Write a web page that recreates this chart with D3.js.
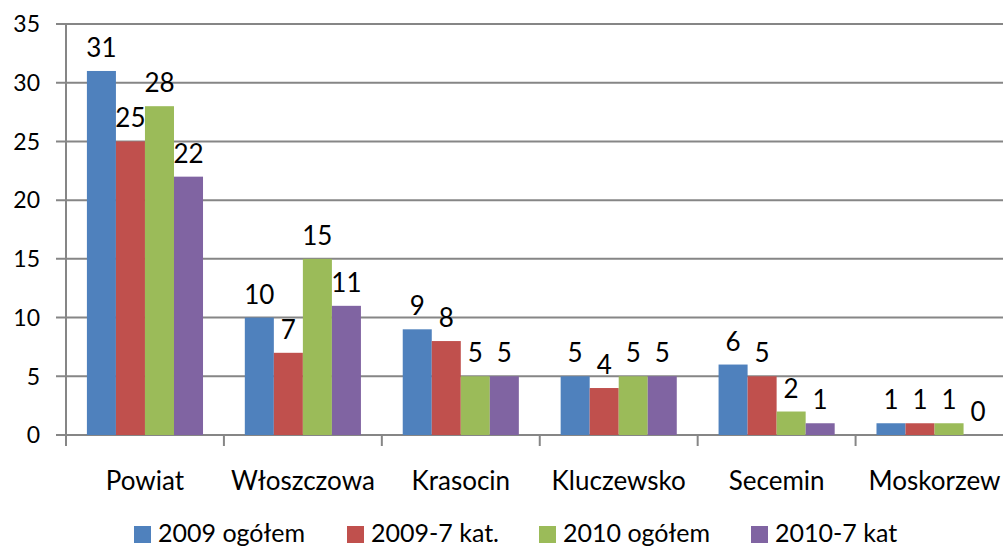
<!DOCTYPE html>
<html>
<head>
<meta charset="utf-8">
<script src="https://cdn.jsdelivr.net/npm/d3@7"></script>
<style>
  html, body { margin: 0; padding: 0; background: #fff; overflow: hidden; }
  text { font-family: Lato, "Open Sans", sans-serif; fill: #000; }
</style>
</head>
<body>
<div id="chart"></div>
<script>
var categories = ["Powiat", "Włoszczowa", "Krasocin", "Kluczewsko", "Secemin", "Moskorzew"];
var seriesNames = ["2009 ogółem", "2009-7 kat.", "2010 ogółem", "2010-7 kat"];
var s2009 = [31, 10, 9, 5, 6, 1];
var s2009k = [25, 7, 8, 4, 5, 1];
var s2010 = [28, 15, 5, 5, 2, 1];
var s2010k = [22, 11, 5, 5, 1, 0];
var yTicks = [0, 5, 10, 15, 20, 25, 30, 35];
var colors = ["#4F81BD", "#C0504D", "#9BBB59", "#8064A2"];

var width = 1003, height = 548;
var series = [s2009, s2009k, s2010, s2010k];

var svg = d3.select("#chart")
    .append("svg")
    .attr("width", width)
    .attr("height", height);

var y = d3.scaleLinear()
    .domain([0, 35])
    .range([435, 24]);

var x0 = d3.scaleBand()
    .domain(categories)
    .range([66, 1013.5])
    .paddingInner(0)
    .paddingOuter(0);

var x1 = d3.scaleBand()
    .domain(d3.range(seriesNames.length))
    .range([0, x0.bandwidth()])
    .paddingInner(0)
    .paddingOuter(0.72);

// gridlines
svg.append("g")
    .selectAll("line")
    .data(yTicks)
    .enter()
    .append("line")
    .attr("x1", 56)
    .attr("x2", width)
    .attr("y1", function (d) { return y(d); })
    .attr("y2", function (d) { return y(d); })
    .attr("stroke", "#868686")
    .attr("stroke-width", 2);

// y tick labels
svg.append("g")
    .selectAll("text")
    .data(yTicks)
    .enter()
    .append("text")
    .attr("x", 40)
    .attr("y", function (d) { return y(d); })
    .attr("dy", "0.36em")
    .attr("text-anchor", "end")
    .style("font-size", "23px")
    .text(function (d) { return d; });

// y axis line
svg.append("line")
    .attr("x1", 66).attr("x2", 66)
    .attr("y1", y(35)).attr("y2", 446)
    .attr("stroke", "#868686")
    .attr("stroke-width", 2);

// category ticks
svg.append("g")
    .selectAll("line")
    .data(categories.slice(1))
    .enter()
    .append("line")
    .attr("x1", function (d) { return x0(d); })
    .attr("x2", function (d) { return x0(d); })
    .attr("y1", y(0))
    .attr("y2", 446)
    .attr("stroke", "#868686")
    .attr("stroke-width", 2);

// bars
var groups = svg.append("g")
    .selectAll("g")
    .data(categories)
    .enter()
    .append("g")
    .attr("transform", function (d) { return "translate(" + x0(d) + ",0)"; });

groups.selectAll("rect")
    .data(function (d, i) { return series.map(function (s, k) { return { k: k, v: s[i] }; }); })
    .enter()
    .append("rect")
    .attr("x", function (d) { return x1(d.k); })
    .attr("y", function (d) { return y(d.v); })
    .attr("width", x1.bandwidth())
    .attr("height", function (d) { return y(0) - y(d.v); })
    .attr("fill", function (d) { return colors[d.k]; });

// data labels
groups.selectAll("text")
    .data(function (d, i) { return series.map(function (s, k) { return { k: k, v: s[i] }; }); })
    .enter()
    .append("text")
    .attr("x", function (d) { return x1(d.k) + x1.bandwidth() / 2; })
    .attr("y", function (d) { return y(d.v) - 14; })
    .attr("text-anchor", "middle")
    .style("font-size", "26px")
    .text(function (d) { return d.v; });

// category labels
svg.append("g")
    .selectAll("text")
    .data(categories)
    .enter()
    .append("text")
    .attr("x", function (d) { return x0(d) + x0.bandwidth() / 2; })
    .attr("y", 490)
    .attr("text-anchor", "middle")
    .style("font-size", "26px")
    .text(function (d) { return d; });

// legend
var legendX = [134, 347, 539, 751];
var legend = svg.append("g")
    .selectAll("g")
    .data(seriesNames)
    .enter()
    .append("g")
    .attr("transform", function (d, i) { return "translate(" + legendX[i] + ",526)"; });

legend.append("rect")
    .attr("width", 17)
    .attr("height", 17)
    .attr("fill", function (d, i) { return colors[i]; });

legend.append("text")
    .attr("x", 24)
    .attr("y", 16)
    .style("font-size", "25px")
    .text(function (d) { return d; });
</script>
</body>
</html>
